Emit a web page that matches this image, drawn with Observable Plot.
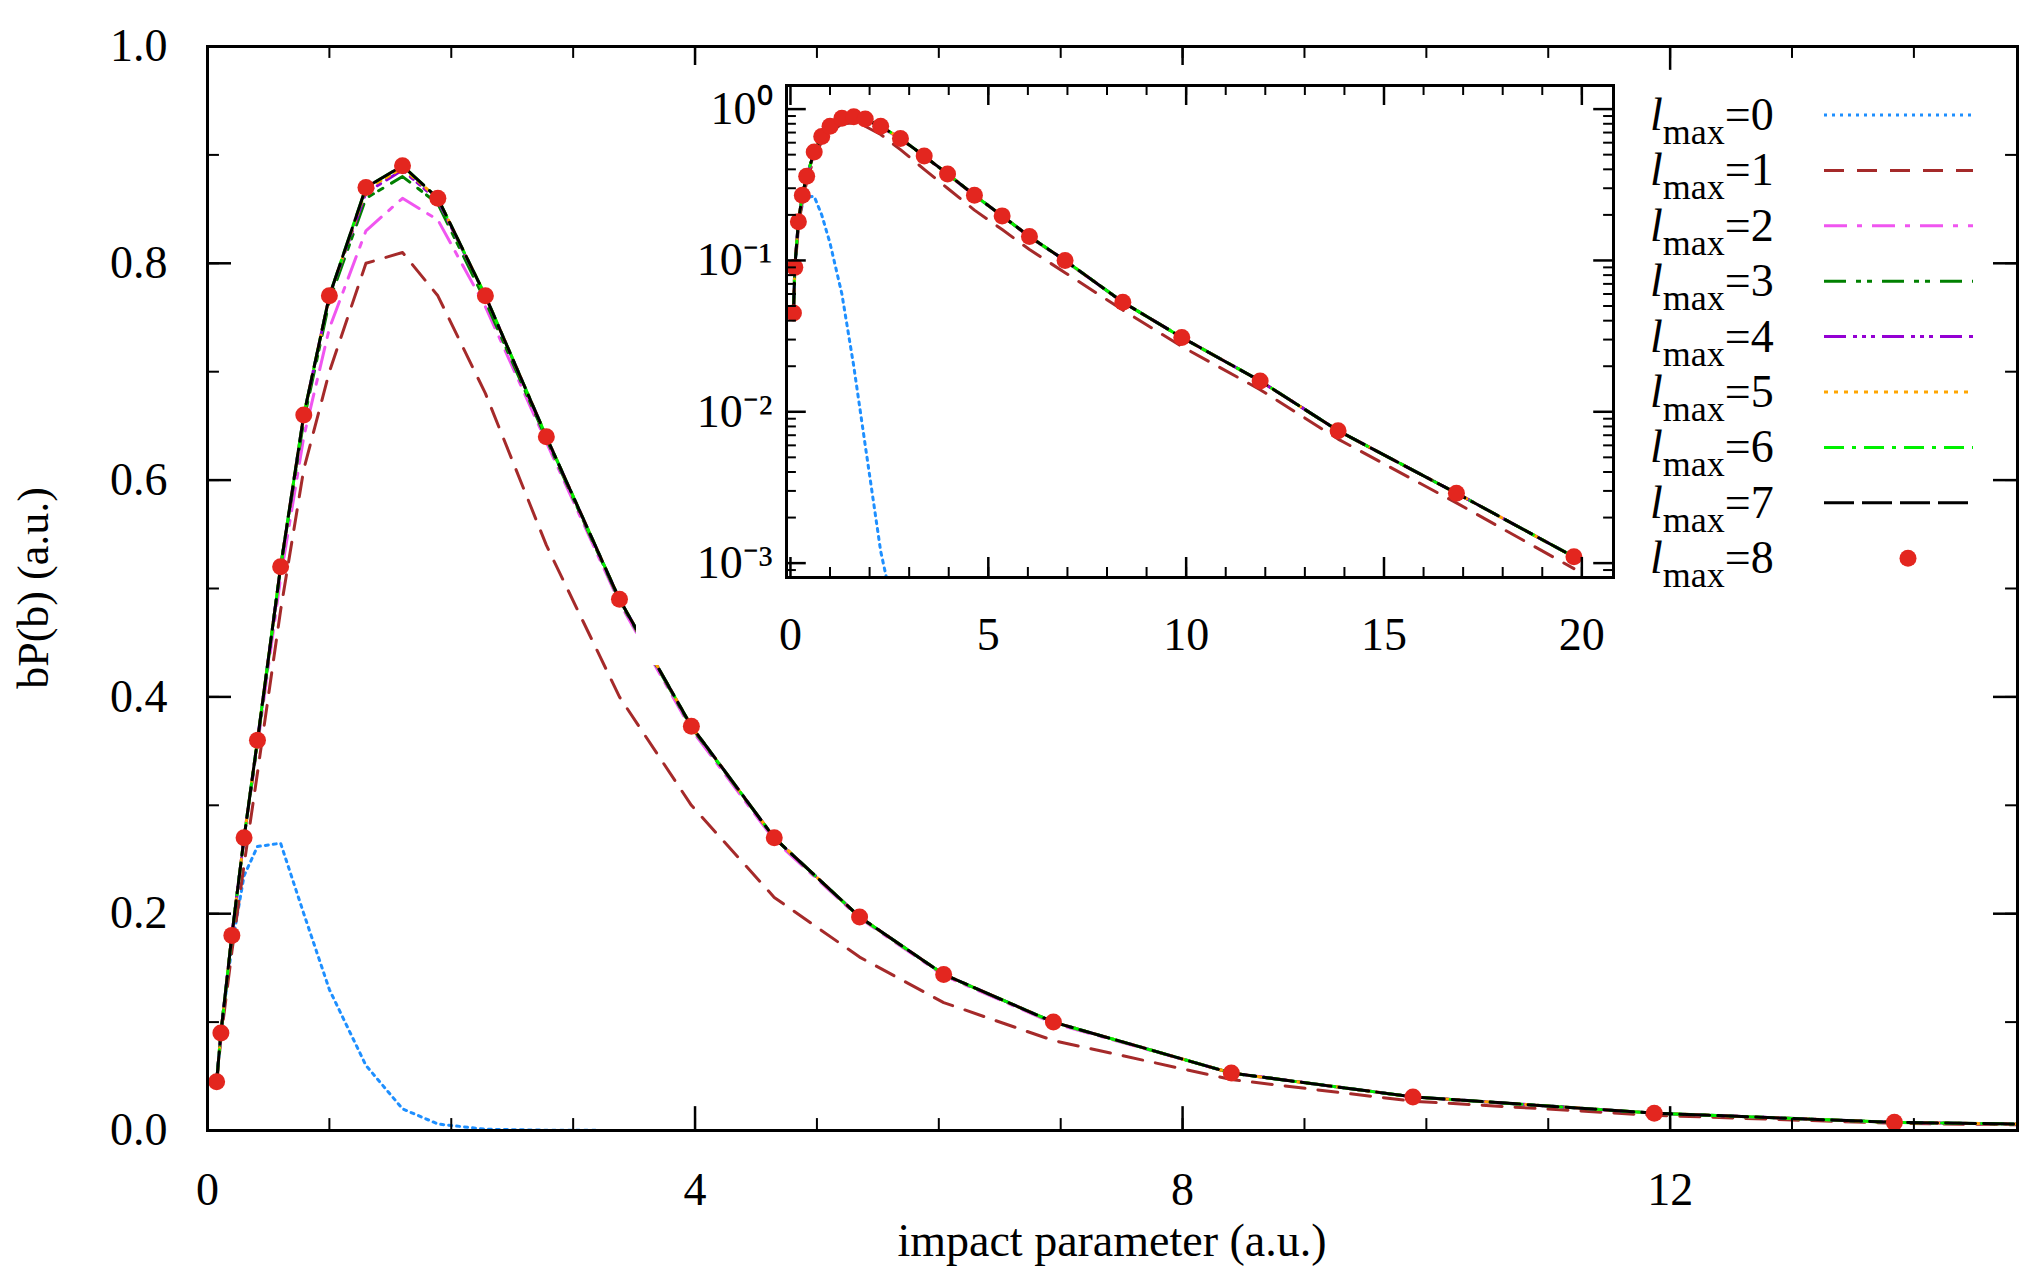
<!DOCTYPE html>
<html><head><meta charset="utf-8">
<script src="https://cdn.jsdelivr.net/npm/d3@7"></script>
<script src="https://cdn.jsdelivr.net/npm/@observablehq/plot@0.6"></script>
<style>
body{margin:0;background:#fff;}
#wrap{position:relative;width:2040px;height:1278px;font-family:"Liberation Serif",serif;}
#wrap > div, #wrap > svg{position:absolute;}
</style></head><body><div id="wrap"></div>
<script>
const b = [0.075,0.11,0.2,0.3,0.41,0.6,0.79,1.0,1.3,1.6,1.89,2.28,2.78,3.38,3.97,4.65,5.35,6.04,6.94,8.4,9.89,11.87,13.84,16.83,19.8];
const lmax0 = [0.045,0.09,0.17,0.235,0.262,0.265,0.2,0.13,0.06,0.02,0.006,0.0012,0.0003,0.00005];
const lmax1 = [0.042,0.085,0.165,0.245,0.33,0.48,0.61,0.70,0.80,0.81,0.77,0.68,0.54,0.40,0.30,0.215,0.16,0.118,0.083,0.047,0.027,0.014,0.0066,0.0025,0.00092];
const lmax2 = [0.045,0.09,0.18,0.27,0.355,0.51,0.64,0.74,0.83,0.86,0.84,0.76,0.635,0.487,0.37,0.268,0.196,0.143,0.099,0.053,0.031,0.016,0.0075,0.0029,0.0011];
const lmax3 = [0.045,0.09,0.18,0.27,0.358,0.52,0.655,0.765,0.86,0.88,0.855,0.765,0.638,0.489,0.372,0.27,0.197,0.144,0.1,0.053,0.031,0.016,0.0075,0.0029,0.0011];
const lmax4 = [0.045,0.09,0.18,0.27,0.36,0.52,0.66,0.77,0.865,0.886,0.858,0.77,0.64,0.49,0.373,0.27,0.197,0.144,0.1,0.053,0.031,0.016,0.0075,0.0029,0.0011];
const lmax5 = [0.045,0.09,0.18,0.27,0.36,0.52,0.66,0.77,0.868,0.888,0.86,0.77,0.64,0.49,0.373,0.27,0.197,0.144,0.1,0.053,0.031,0.016,0.0075,0.0029,0.0011];
const lmax6 = [0.045,0.09,0.18,0.27,0.36,0.52,0.66,0.77,0.87,0.89,0.86,0.77,0.64,0.49,0.373,0.27,0.197,0.144,0.1,0.053,0.031,0.016,0.0075,0.0029,0.0011];
const lmax7 = [0.045,0.09,0.18,0.27,0.36,0.52,0.66,0.77,0.87,0.89,0.86,0.77,0.64,0.49,0.373,0.27,0.197,0.144,0.1,0.053,0.031,0.016,0.0075,0.0029,0.0011];
const lmax8 = [0.045,0.09,0.18,0.27,0.36,0.52,0.66,0.77,0.87,0.89,0.86,0.77,0.64,0.49,0.373,0.27,0.197,0.144,0.1,0.053,0.031,0.016,0.0075,0.0029,0.0011];
const seriesNames = ["0","1","2","3","4","5","6","7"];
const lineSeries = [lmax0,lmax1,lmax2,lmax3,lmax4,lmax5,lmax6,lmax7];
const colors = ["#1e8fff","#a52a2a","#f055f0","#008000","#9400d3","#ffa500","#00f000","#000000"];
const dashes = ["3,5","20,13","23,10,5,10","22,10,5,6,5,10","22,7,4,5,4,5,4,7","4,6","20,8,4,8","30,8"];
const xMainTicks = [0,4,8,12];
const yMainTicks = [0,0.2,0.4,0.6,0.8,1.0];
const xInsetTicks = [0,5,10,15,20];
const yInsetTicks = [1e-3,1e-2,1e-1,1];
const supers = {"0":"⁰","1":"¹","2":"²","3":"³"};

const tables = lineSeries.map((s,i)=>s.map((v,j)=>({x:b[j],y:v,s:i})));
const dots = lmax8.map((v,j)=>({x:b[j],y:v}));
const font = "Liberation Serif, serif";
const wrap = document.getElementById("wrap");

// main
const xMax = 14.85;
const xMinor = d3.range(1,15), yMinor = d3.range(0,1.001,0.1);
const lineMarks = (t)=>tables.map((tb,i)=>Plot.line(tb,{x:"x",y:"y",stroke:colors[i],strokeWidth:3,strokeDasharray:dashes[i],clip:true,curve:"linear"}));
const main = Plot.plot({
  width:2040,height:1278,marginLeft:207,marginRight:23,marginTop:46,marginBottom:148,
  style:{fontFamily:font,fontSize:"46px",background:"transparent",color:"#000"},
  x:{domain:[0,xMax],ticks:xMainTicks,tickFormat:d=>String(d),tickSize:0,tickPadding:42,label:null},
  y:{domain:[0,1],ticks:yMainTicks,tickFormat:d3.format(".1f"),tickSize:0,tickPadding:40,label:null},
  marks:[
    ...lineMarks(),
    Plot.dot(dots,{x:"x",y:"y",r:8.5,fill:"#e3261f",clip:true}),
    Plot.ruleX(xMinor,{y1:0,y2:0.011,stroke:"#000",strokeWidth:2}),
    Plot.ruleX(xMinor,{y1:1,y2:0.989,stroke:"#000",strokeWidth:2}),
    Plot.ruleX(xMainTicks,{y1:0,y2:0.022,stroke:"#000",strokeWidth:2.5}),
    Plot.ruleX(xMainTicks,{y1:1,y2:0.978,stroke:"#000",strokeWidth:2.5}),
    Plot.ruleY(yMinor,{x1:0,x2:0.098,stroke:"#000",strokeWidth:2}),
    Plot.ruleY(yMinor,{x1:xMax,x2:xMax-0.098,stroke:"#000",strokeWidth:2}),
    Plot.ruleY(yMainTicks,{x1:0,x2:0.197,stroke:"#000",strokeWidth:2.5}),
    Plot.ruleY(yMainTicks,{x1:xMax,x2:xMax-0.197,stroke:"#000",strokeWidth:2.5}),
    Plot.frame({stroke:"#000",strokeWidth:3}),
    Plot.axisX({ticks:xMainTicks,tickSize:0,tickPadding:42,tickFormat:d=>String(d),label:null}),
    Plot.axisY({ticks:yMainTicks,tickSize:0,tickPadding:40,tickFormat:d3.format(".1f"),label:null})
  ]
});
main.style.left="0px";main.style.top="0px";
wrap.appendChild(main);

// inset
const ilo = Math.pow(10,-3.095), ihi = Math.pow(10,0.156);
const pxDec = 492/3.251;
const up = (v,px)=>v*Math.pow(10,px/pxDec);
const logMinor = [];
[-4,-3,-2,-1,0].forEach(e=>{for(let k=2;k<=9;k++){const v=k*Math.pow(10,e); if(v>ilo&&v<ihi) logMinor.push(v);}});
const ixMinor = d3.range(1,21);
const inset = Plot.plot({
  width:1000,height:600,marginLeft:150,marginRight:23,marginTop:20,marginBottom:88,
  style:{fontFamily:font,fontSize:"46px",background:"#fff",color:"#000"},
  x:{domain:[-0.1,20.8],label:null},
  y:{type:"log",domain:[ilo,ihi],label:null},
  marks:[
    ...tables.map((tb,i)=>Plot.line(tb,{x:"x",y:"y",stroke:colors[i],strokeWidth:3,strokeDasharray:dashes[i],clip:true})),
    Plot.dot(dots,{x:"x",y:"y",r:8.5,fill:"#e3261f",clip:true}),
    Plot.ruleX(ixMinor,{y1:ilo,y2:up(ilo,10),stroke:"#000",strokeWidth:2}),
    Plot.ruleX(ixMinor,{y1:ihi,y2:up(ihi,-10),stroke:"#000",strokeWidth:2}),
    Plot.ruleX(xInsetTicks,{y1:ilo,y2:up(ilo,20),stroke:"#000",strokeWidth:2.5}),
    Plot.ruleX(xInsetTicks,{y1:ihi,y2:up(ihi,-20),stroke:"#000",strokeWidth:2.5}),
    Plot.ruleY(logMinor,{x1:-0.1,x2:0.15,stroke:"#000",strokeWidth:2}),
    Plot.ruleY(logMinor,{x1:20.8,x2:20.55,stroke:"#000",strokeWidth:2}),
    Plot.ruleY(yInsetTicks,{x1:-0.1,x2:0.4,stroke:"#000",strokeWidth:2.5}),
    Plot.ruleY(yInsetTicks,{x1:20.8,x2:20.3,stroke:"#000",strokeWidth:2.5}),
    Plot.frame({stroke:"#000",strokeWidth:3}),
    Plot.axisX({ticks:xInsetTicks,tickSize:0,tickPadding:40,tickFormat:d=>String(d),label:null}),
    Plot.axisY({ticks:yInsetTicks,tickSize:0,tickPadding:14,tickFormat:d=>"10"+(d<1?"⁻":"")+supers[String(Math.round(Math.abs(Math.log10(d))))],label:null})
  ]
});
inset.style.left="636px";inset.style.top="65px";
wrap.appendChild(inset);

// axis titles
const ns="http://www.w3.org/2000/svg";
const over=document.createElementNS(ns,"svg");
over.setAttribute("width",2040);over.setAttribute("height",1278);
over.style.left="0px";over.style.top="0px";
over.style.fontFamily=font;
let html = `<text x="1112" y="1256" text-anchor="middle" font-size="46">impact parameter (a.u.)</text>
<text transform="translate(48,588) rotate(-90)" text-anchor="middle" font-size="44">bP(b) (a.u.)</text>`;
const legNames = [...seriesNames,"8"];
legNames.forEach((n,i)=>{
  const y = 115 + i*55.4;
  html += `<text x="1650" y="${y+15}" font-size="46"><tspan font-style="italic">l</tspan><tspan dy="14" font-size="36">max</tspan><tspan dy="-14">=${n}</tspan></text>`;
  if(i<8) html += `<line x1="1824" x2="1973" y1="${y}" y2="${y}" stroke="${colors[i]}" stroke-width="3" stroke-dasharray="${dashes[i]}"/>`;
  else html += `<circle cx="1908" cy="${y}" r="8.5" fill="#e3261f"/>`;
});
over.innerHTML = html;
wrap.appendChild(over);
</script></body></html>
